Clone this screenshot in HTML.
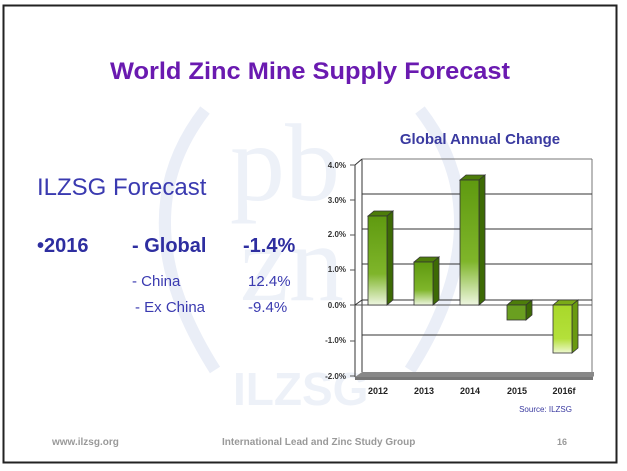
<!DOCTYPE html>
<html><head><meta charset="utf-8"><style>
html,body{margin:0;padding:0;background:#fff;}
svg{display:block;}
</style></head><body>
<svg width="627" height="471" viewBox="0 0 627 471" xmlns="http://www.w3.org/2000/svg" font-family="Liberation Sans, sans-serif">
<defs>
<linearGradient id="g1" x1="0" y1="0" x2="0" y2="1">
<stop offset="0" stop-color="#5f9a10"/><stop offset="0.65" stop-color="#7fb52a"/><stop offset="1" stop-color="#eef6e0"/>
</linearGradient>
<linearGradient id="g2" x1="0" y1="0" x2="0" y2="1">
<stop offset="0" stop-color="#a8d82a"/><stop offset="0.7" stop-color="#b4e03a"/><stop offset="1" stop-color="#eef8d0"/>
</linearGradient>
</defs>
<rect x="0" y="0" width="627" height="471" fill="#fff"/>
<rect x="3.5" y="5.5" width="613" height="457" fill="#fff" stroke="#222" stroke-width="2"/>
<g fill="none" stroke="#eaeef7" stroke-width="12">
<path d="M205 110 Q120 220 215 370"/>
<path d="M420 110 Q505 220 410 370"/>
</g>
<g fill="#edf1f8">
<text x="230" y="200" font-size="110" font-family="Liberation Serif, serif">pb</text>
<text x="240" y="300" font-size="110" font-family="Liberation Serif, serif">zn</text>
<text x="233" y="405" font-size="46" font-weight="bold">ILZSG</text>
</g>
<text x="110" y="79" font-size="24" font-weight="bold" fill="#6a1ab0" textLength="400" lengthAdjust="spacingAndGlyphs">World Zinc Mine Supply Forecast</text>
<text x="37" y="195" font-size="24" fill="#3a3ab0">ILZSG Forecast</text>
<text x="37" y="252" font-size="20" font-weight="bold" fill="#2e2ea0">•2016</text>
<text x="132" y="252" font-size="20" font-weight="bold" fill="#2e2ea0">- Global</text>
<text x="243" y="252" font-size="20" font-weight="bold" fill="#2e2ea0">-1.4%</text>
<text x="132" y="286" font-size="15" fill="#3a3ab0">- China</text>
<text x="248" y="286" font-size="15" fill="#3a3ab0">12.4%</text>
<text x="135" y="312" font-size="15" fill="#3a3ab0">- Ex China</text>
<text x="248" y="312" font-size="15" fill="#3a3ab0">-9.4%</text>
<text x="480" y="144" font-size="15" font-weight="bold" fill="#3a3aa0" text-anchor="middle">Global Annual Change</text>
<g stroke="#333" stroke-width="1" fill="none">
<line x1="362" y1="159" x2="362" y2="372"/>
<line x1="355" y1="165" x2="355" y2="377"/>
<line x1="355" y1="165" x2="362" y2="159"/>
<line x1="362" y1="159" x2="592" y2="159" stroke="#777"/>
<line x1="592" y1="159" x2="592" y2="372" stroke="#777"/>
<line x1="362" y1="194" x2="592" y2="194"/>
<line x1="362" y1="229" x2="592" y2="229"/>
<line x1="362" y1="264" x2="592" y2="264"/>
<line x1="362" y1="300" x2="592" y2="300"/>
<line x1="362" y1="335" x2="592" y2="335"/>
<line x1="355" y1="305" x2="592" y2="305" stroke="#555"/>
<line x1="355" y1="305" x2="362" y2="300"/>
</g>
<g stroke="#555">
<line x1="350" y1="165" x2="355" y2="165"/><line x1="350" y1="200" x2="355" y2="200"/>
<line x1="350" y1="235" x2="355" y2="235"/><line x1="350" y1="270" x2="355" y2="270"/>
<line x1="350" y1="305" x2="355" y2="305"/><line x1="350" y1="341" x2="355" y2="341"/>
<line x1="350" y1="376" x2="355" y2="376"/>
</g>
<polygon points="355,377 362,372 594,372 594,376 592,378 355,378" fill="#888"/>
<rect x="355" y="377" width="238" height="3" fill="#777"/>
<g font-size="8" font-weight="bold" fill="#333" text-anchor="end">
<text x="346" y="168">4.0%</text><text x="346" y="203">3.0%</text><text x="346" y="237">2.0%</text>
<text x="346" y="272">1.0%</text><text x="346" y="308">0.0%</text><text x="346" y="343">-1.0%</text>
<text x="346" y="379">-2.0%</text>
</g>
<g stroke="#333" stroke-width="0.8">
<polygon points="368,216 374,211 393,211 387,216" fill="#4d7d0a"/>
<polygon points="387,216 393,211 393,300 387,305" fill="#3d6a05"/>
<rect x="368" y="216" width="19" height="89" fill="url(#g1)"/>
<polygon points="414,262 420,257 439,257 433,262" fill="#4d7d0a"/>
<polygon points="433,262 439,257 439,300 433,305" fill="#3d6a05"/>
<rect x="414" y="262" width="19" height="43" fill="url(#g1)"/>
<polygon points="460,180 466,175 485,175 479,180" fill="#4d7d0a"/>
<polygon points="479,180 485,175 485,300 479,305" fill="#3d6a05"/>
<rect x="460" y="180" width="19" height="125" fill="url(#g1)"/>
<polygon points="507,305 513,300 532,300 526,305" fill="#4d7d0a"/>
<polygon points="526,305 532,300 532,315 526,320" fill="#3d6a05"/>
<rect x="507" y="305" width="19" height="15" fill="#6a9f20"/>
<polygon points="553,305 559,300 578,300 572,305" fill="#7aaa18"/>
<polygon points="572,305 578,300 578,348 572,353" fill="#6a9a10"/>
<rect x="553" y="305" width="19" height="48" fill="url(#g2)"/>
</g>
<g font-size="9" font-weight="bold" fill="#222" text-anchor="middle">
<text x="378" y="394">2012</text><text x="424" y="394">2013</text><text x="470" y="394">2014</text>
<text x="517" y="394">2015</text><text x="564" y="394">2016f</text>
</g>
<text x="572" y="412" font-size="8" fill="#3a3aa0" text-anchor="end">Source: ILZSG</text>
<g font-size="10" font-weight="bold" fill="#999">
<text x="52" y="445">www.ilzsg.org</text>
<text x="222" y="445">International Lead and Zinc Study Group</text>
<text x="557" y="445" font-size="9">16</text>
</g>
</svg>
</body></html>
